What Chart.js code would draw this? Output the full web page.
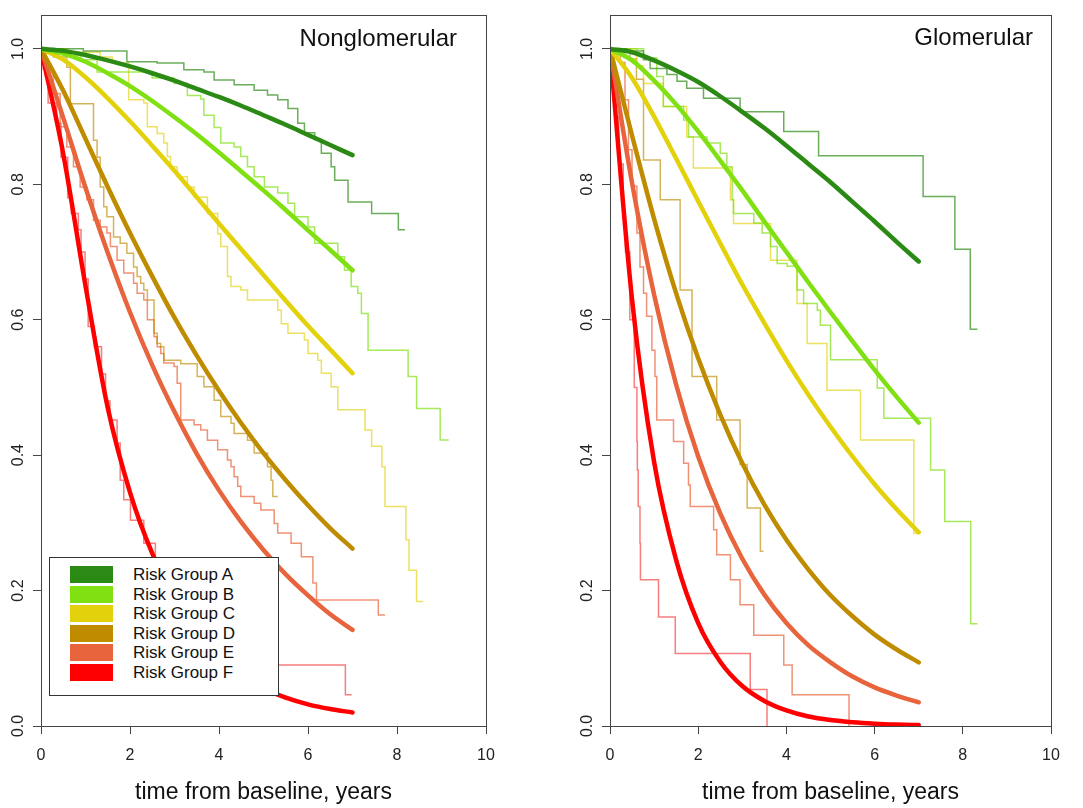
<!DOCTYPE html>
<html>
<head>
<meta charset="utf-8">
<script src="https://cdn.jsdelivr.net/npm/chart.js@4"></script>
<style>
html,body{margin:0;padding:0;background:#fff;}
#wrap{position:relative;width:1083px;height:808px;overflow:hidden;font-family:"Liberation Sans",Arial,sans-serif;background:#fff;}
canvas{position:absolute;top:0;}
#c1{left:0;}
#c2{left:545px;}
.ptitle{position:absolute;font-size:24px;line-height:24px;color:#111;white-space:nowrap;}
#legend{position:absolute;left:49px;top:557px;width:228px;height:137px;background:#fff;border:1px solid #333;}
.lrow{position:absolute;left:20px;height:17px;width:200px;}
.sw{position:absolute;left:0;top:0;width:43px;height:17px;}
.lt{position:absolute;left:63px;top:-1px;font-size:17px;line-height:19px;white-space:nowrap;color:#111;}
</style>
</head>
<body>
<div id="wrap">
  <canvas id="c1" width="545" height="808"></canvas>
  <canvas id="c2" width="538" height="808"></canvas>
  <div class="ptitle" id="t1" style="right:626px;top:26px;"></div>
  <div class="ptitle" id="t2" style="right:50px;top:25px;"></div>
  <div id="legend"></div>
</div>
<script>
// ---------- data ----------
const panelTitles = ["Nonglomerular", "Glomerular"];
const xAxisTitle = "time from baseline, years";
const groupNames = ["Risk Group A","Risk Group B","Risk Group C","Risk Group D","Risk Group E","Risk Group F"];
const groupColors = ["#2b8a14","#80e012","#e2d10b","#bf8c00","#e8643c","#ff0000"];
const stepColors = ["rgba(43,138,20,0.7)","rgba(128,224,18,0.7)","rgba(226,209,11,0.65)","rgba(191,140,0,0.65)","rgba(232,100,60,0.7)","rgba(240,40,40,0.6)"];
const xTicks = [0, 2, 4, 6, 8, 10];
const yTicks = [0, 0.2, 0.4, 0.6, 0.8, 1.0];

// fitted (smooth) survival curves, evaluated on timeGrid
const timeGrid = [0,0.5,1,1.5,2,2.5,3,3.5,4,4.5,5,5.5,6,6.5,7];
const nonglomFitA = [1,0.997,0.991,0.983,0.974,0.964,0.953,0.941,0.929,0.916,0.902,0.888,0.873,0.858,0.843];
const nonglomFitB = [1,0.993,0.981,0.964,0.945,0.923,0.899,0.874,0.847,0.819,0.791,0.762,0.732,0.703,0.673];
const nonglomFitC = [1,0.984,0.958,0.927,0.893,0.857,0.820,0.781,0.742,0.704,0.666,0.628,0.591,0.556,0.521];
const nonglomFitD = [1,0.938,0.867,0.796,0.728,0.664,0.603,0.547,0.495,0.447,0.403,0.363,0.326,0.292,0.262];
const nonglomFitE = [1,0.898,0.795,0.699,0.611,0.533,0.464,0.402,0.348,0.301,0.260,0.224,0.193,0.165,0.142];
const nonglomFitF = [1,0.845,0.65,0.47,0.345,0.255,0.19,0.14,0.10,0.074,0.055,0.042,0.032,0.025,0.020];

const glomFitA = [1,0.995,0.983,0.968,0.951,0.930,0.907,0.883,0.857,0.830,0.803,0.774,0.745,0.715,0.686];
const glomFitB = [1,0.983,0.953,0.918,0.878,0.835,0.791,0.745,0.700,0.655,0.611,0.568,0.526,0.486,0.448];
const glomFitC = [1,0.957,0.900,0.838,0.775,0.713,0.652,0.595,0.540,0.489,0.442,0.398,0.357,0.320,0.286];
const glomFitD = [1,0.872,0.749,0.639,0.543,0.460,0.388,0.327,0.275,0.231,0.193,0.162,0.135,0.113,0.094];
const glomFitE = [1,0.802,0.637,0.504,0.398,0.314,0.247,0.194,0.152,0.119,0.094,0.073,0.057,0.045,0.035];
const glomFitF = [1,0.63,0.39,0.245,0.152,0.095,0.059,0.037,0.023,0.014,0.0088,0.0055,0.0034,0.0021,0.0013];

// Kaplan-Meier step curves: event times and survival after each event
const nonglomKmTimeA = [0,0.95,1.93,2.61,3.21,3.66,3.89,4.34,4.79,5.09,5.32,5.55,5.77,5.92,6.15,6.30,6.52,6.60,6.90,7.43,8.03,8.18];
const nonglomKmSurvA = [1,0.997,0.981,0.979,0.969,0.966,0.954,0.947,0.939,0.932,0.925,0.912,0.890,0.876,0.866,0.846,0.826,0.806,0.774,0.757,0.733,0.733];
const nonglomKmTimeB = [0,0.5,0.9,1.26,2.5,2.99,3.29,3.59,3.66,3.89,4.04,4.34,4.49,4.64,4.79,5.02,5.32,5.55,5.70,6.00,6.15,6.67,6.82,6.97,7.12,7.20,7.35,8.25,8.44,8.97,9.16];
const nonglomKmSurvB = [1,0.99,0.984,0.966,0.957,0.949,0.931,0.926,0.902,0.884,0.861,0.855,0.841,0.826,0.811,0.796,0.787,0.772,0.752,0.737,0.713,0.693,0.673,0.649,0.639,0.609,0.555,0.516,0.469,0.4225,0.4225];
const nonglomKmTimeC = [0,0.6,1.33,1.6,1.97,2.31,2.39,2.61,2.76,2.84,2.91,3.06,3.29,3.44,3.74,3.97,4.04,4.19,4.27,4.49,4.64,5.32,5.40,5.55,5.92,6.00,6.22,6.30,6.52,6.67,7.28,7.43,7.66,7.73,8.20,8.27,8.44,8.59];
const nonglomKmSurvC = [1,0.995,0.988,0.979,0.925,0.920,0.885,0.875,0.861,0.841,0.826,0.811,0.796,0.781,0.757,0.727,0.708,0.664,0.649,0.644,0.629,0.614,0.594,0.580,0.570,0.550,0.540,0.521,0.501,0.467,0.437,0.413,0.383,0.324,0.275,0.230,0.184,0.184];
const nonglomKmTimeD = [0,0.28,0.58,0.66,1.18,1.26,1.33,1.41,1.48,1.63,1.78,1.93,2.08,2.16,2.24,2.31,2.39,2.54,2.61,2.69,2.76,3.14,3.51,3.66,3.89,4.04,4.27,4.34,4.64,4.79,5.09,5.17,5.21,5.32];
const nonglomKmSurvD = [1,0.988,0.973,0.919,0.865,0.840,0.796,0.767,0.752,0.722,0.713,0.698,0.678,0.664,0.654,0.644,0.629,0.580,0.565,0.560,0.540,0.535,0.516,0.501,0.481,0.457,0.447,0.432,0.422,0.403,0.383,0.363,0.339,0.339];
const nonglomKmTimeE = [0,0.1,0.28,0.43,0.58,0.73,0.88,1.03,1.18,1.33,1.48,1.56,1.71,1.86,2.08,2.16,2.31,2.39,2.54,2.61,2.69,2.76,2.99,3.06,3.14,3.44,3.59,3.74,3.97,4.19,4.27,4.34,4.42,4.49,4.79,4.94,5.24,5.32,5.62,5.85,6.11,6.19,7.58,7.73];
const nonglomKmSurvE = [1,0.96,0.934,0.885,0.855,0.826,0.796,0.777,0.747,0.737,0.728,0.708,0.688,0.669,0.654,0.639,0.629,0.600,0.575,0.560,0.550,0.536,0.531,0.506,0.452,0.445,0.437,0.422,0.408,0.393,0.383,0.368,0.354,0.339,0.329,0.319,0.299,0.285,0.270,0.250,0.211,0.186,0.164,0.164];
const nonglomKmTimeF = [0,0.05,0.16,0.35,0.45,0.6,0.68,0.84,0.9,0.99,1.06,1.2,1.36,1.45,1.55,1.71,1.78,1.86,2.01,2.31,2.57,2.9,3.3,3.7,4.1,4.6,5.0,6.84,6.98];
const nonglomKmSurvF = [1,0.97,0.92,0.89,0.84,0.78,0.757,0.733,0.70,0.66,0.59,0.56,0.52,0.48,0.452,0.418,0.363,0.334,0.304,0.270,0.245,0.21,0.18,0.15,0.13,0.11,0.09,0.046,0.046];

const glomKmTimeA = [0,0.38,0.76,0.91,1.29,1.52,1.74,2.12,2.95,3.94,4.73,7.10,7.82,8.17,8.33];
const glomKmSurvA = [1,0.997,0.984,0.971,0.962,0.952,0.942,0.927,0.907,0.878,0.842,0.782,0.704,0.586,0.586];
const glomKmTimeB = [0,0.76,1.06,1.21,1.67,1.78,2.20,2.50,2.65,2.77,2.80,3.26,3.45,3.64,3.79,4.02,4.24,4.39,4.70,4.77,5.00,6.06,6.21,7.27,7.59,8.18,8.33];
const glomKmSurvB = [1,0.987,0.959,0.915,0.895,0.870,0.861,0.846,0.826,0.777,0.757,0.743,0.728,0.708,0.683,0.679,0.644,0.624,0.614,0.592,0.541,0.499,0.4545,0.378,0.302,0.151,0.151];
const glomKmTimeC = [0,0.61,0.76,1.21,1.74,1.89,2.73,2.80,3.64,4.24,4.47,4.92,5.68,6.89,7.00];
const glomKmSurvC = [1,0.975,0.949,0.915,0.870,0.824,0.777,0.742,0.688,0.624,0.565,0.496,0.4225,0.2846,0.2846];
const glomKmTimeD = [0,0.45,0.60,0.76,1.14,1.59,1.86,2.42,2.95,3.11,3.41,3.48];
const glomKmSurvD = [1,0.985,0.955,0.836,0.777,0.644,0.516,0.452,0.386,0.322,0.258,0.258];
const glomKmTimeE = [0,0.23,0.34,0.42,0.50,0.61,0.68,0.76,0.83,0.95,1.02,1.06,1.44,1.67,1.78,1.82,2.35,2.42,2.73,2.95,3.26,3.94,4.13,5.42];
const glomKmSurvE = [1,0.98,0.925,0.851,0.797,0.728,0.678,0.639,0.605,0.555,0.516,0.452,0.420,0.388,0.356,0.324,0.290,0.253,0.216,0.179,0.134,0.090,0.046,0];
const glomKmTimeF = [0,0.05,0.12,0.2,0.3,0.35,0.45,0.55,0.61,0.62,0.64,0.68,0.69,1.10,1.48,3.18,3.56];
const glomKmSurvF = [1,0.97,0.90,0.83,0.75,0.70,0.60,0.50,0.42,0.378,0.324,0.270,0.216,0.161,0.107,0.054,0];

// ---------- build ----------
const FONT = "'Liberation Sans', Arial, sans-serif";

function buildDatasets(fits, kmTimes, kmSurv) {
  const ds = [];
  fits.forEach((f, i) => ds.push({
    label: groupNames[i],
    data: timeGrid.map((t, j) => ({x: t, y: f[j]})),
    borderColor: groupColors[i], backgroundColor: groupColors[i],
    borderWidth: 4.5, pointRadius: 0, fill: false,
    cubicInterpolationMode: 'monotone', borderCapStyle: 'round', borderJoinStyle: 'round',
    order: 0
  }));
  kmTimes.forEach((ts, i) => ds.push({
    label: groupNames[i] + " (Kaplan-Meier)",
    data: ts.map((t, j) => ({x: t, y: kmSurv[i][j]})),
    borderColor: stepColors[i], backgroundColor: stepColors[i],
    borderWidth: 1.5, pointRadius: 0, fill: false, stepped: 'before',
    order: 1
  }));
  return ds;
}

const boxPlugin = {
  id: 'plotBox',
  afterDatasetsDraw(chart) {
    const {ctx, chartArea: a} = chart;
    ctx.save();
    ctx.strokeStyle = '#444';
    ctx.lineWidth = 1;
    const l = Math.round(a.left) + 0.5, t = Math.round(a.top) + 0.5;
    const r = Math.round(a.right) + 0.5, b = Math.round(a.bottom) + 0.5;
    ctx.strokeRect(l, t, r - l, b - t);
    ctx.restore();
  }
};

function makeOptions(yWidth, padRight) {
  return {
    responsive: false, animation: false, devicePixelRatio: 1,
    layout: {padding: {left: 0, top: 15, right: padRight, bottom: 0}},
    plugins: {legend: {display: false}, tooltip: {enabled: false}},
    scales: {
      x: {
        type: 'linear', min: 0, max: 10,
        afterBuildTicks: s => { s.ticks = xTicks.map(v => ({value: v})); },
        ticks: {color: '#222', font: {family: FONT, size: 16}, padding: 12, maxRotation: 0, minRotation: 0,
                callback: v => String(v)},
        grid: {drawOnChartArea: false, drawTicks: true, tickLength: 8, color: '#444', lineWidth: 1},
        border: {display: true, color: '#444', width: 1},
        title: {display: true, text: xAxisTitle, color: '#111', font: {family: FONT, size: 23},
                padding: {top: 0, bottom: 2}},
        afterFit: s => { s.height = 82; }
      },
      y: {
        type: 'linear', min: 0, max: 1.05,
        afterBuildTicks: s => { s.ticks = yTicks.map(v => ({value: v})); },
        ticks: {color: '#222', font: {family: FONT, size: 16}, padding: 3, minRotation: 90, maxRotation: 90,
                crossAlign: 'center', callback: v => Number(v).toFixed(1)},
        grid: {drawOnChartArea: false, drawTicks: true, tickLength: 8, color: '#444', lineWidth: 1},
        border: {display: true, color: '#444', width: 1},
        afterFit: s => { s.width = yWidth; }
      }
    }
  };
}

new Chart(document.getElementById('c1'), {
  type: 'line',
  data: {datasets: buildDatasets(
    [nonglomFitA, nonglomFitB, nonglomFitC, nonglomFitD, nonglomFitE, nonglomFitF],
    [nonglomKmTimeA, nonglomKmTimeB, nonglomKmTimeC, nonglomKmTimeD, nonglomKmTimeE, nonglomKmTimeF],
    [nonglomKmSurvA, nonglomKmSurvB, nonglomKmSurvC, nonglomKmSurvD, nonglomKmSurvE, nonglomKmSurvF])},
  options: makeOptions(41, 59),
  plugins: [boxPlugin]
});

new Chart(document.getElementById('c2'), {
  type: 'line',
  data: {datasets: buildDatasets(
    [glomFitA, glomFitB, glomFitC, glomFitD, glomFitE, glomFitF],
    [glomKmTimeA, glomKmTimeB, glomKmTimeC, glomKmTimeD, glomKmTimeE, glomKmTimeF],
    [glomKmSurvA, glomKmSurvB, glomKmSurvC, glomKmSurvD, glomKmSurvE, glomKmSurvF])},
  options: makeOptions(65, 32),
  plugins: [boxPlugin]
});

document.getElementById('t1').textContent = panelTitles[0];
document.getElementById('t2').textContent = panelTitles[1];

const legend = document.getElementById('legend');
groupNames.forEach((name, i) => {
  const row = document.createElement('div');
  row.className = 'lrow';
  row.style.top = (8 + i * 19.6) + 'px';
  const sw = document.createElement('div');
  sw.className = 'sw';
  sw.style.background = groupColors[i];
  const lt = document.createElement('div');
  lt.className = 'lt';
  lt.textContent = name;
  row.appendChild(sw); row.appendChild(lt);
  legend.appendChild(row);
});
</script>
</body>
</html>
